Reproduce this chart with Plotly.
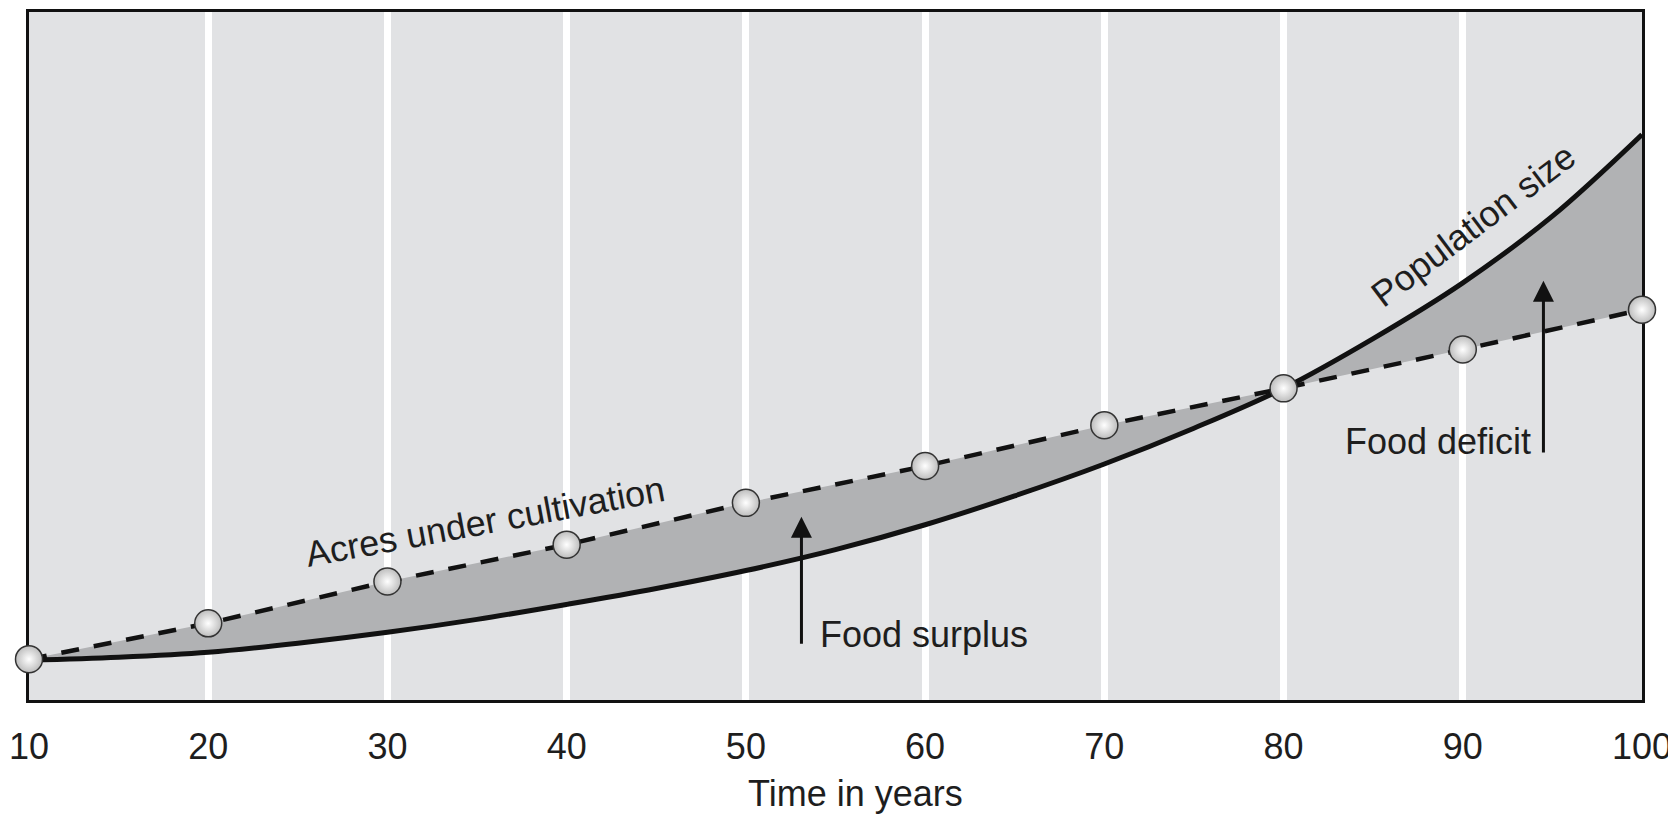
import plotly.graph_objects as go

# ---- data ----
years_acres = [10, 20, 30, 40, 50, 60, 70, 80, 90, 100]
acres = [41, 77, 119, 156, 198, 235, 276, 313, 352, 392]

years_pop = [10, 15, 20, 25, 30, 35, 40, 45, 50, 55, 60, 65, 70, 75, 80, 85, 90, 95, 100]
population = [40, 43, 48, 57, 68, 81, 96, 112, 130, 151, 176, 205, 237, 273, 313, 363, 419, 486, 568]

tick_vals = [10, 20, 30, 40, 50, 60, 70, 80, 90, 100]
tick_text = ["10", "20", "30", "40", "50", "60", "70", "80", "90", "100"]

FONT = "Liberation Sans, Arial, Helvetica, sans-serif"
TXT = "#1e1e1e"
BG = "#e1e2e4"
FILL = "#b1b2b4"
FS = 36

fig = go.Figure()

# acres line (dashed) - base for fill
fig.add_trace(go.Scatter(
    x=years_acres, y=acres, mode="lines",
    line=dict(color="#111111", width=4.5, dash="18px,15px"),
    hoverinfo="skip", showlegend=False,
))
# population curve, filled to acres line
fig.add_trace(go.Scatter(
    x=years_pop, y=population, mode="lines",
    line=dict(color="#111111", width=5, shape="spline", smoothing=1.0),
    fill="tonexty", fillcolor=FILL,
    hoverinfo="skip", showlegend=False,
))
# sphere markers on acres
fig.add_trace(go.Scatter(
    x=years_acres, y=acres, mode="markers",
    marker=dict(size=27, color="#bdbdbd",
                gradient=dict(type="radial", color="#ffffff"),
                line=dict(color="#333333", width=1.5)),
    cliponaxis=False, hoverinfo="skip", showlegend=False,
))

annos = [
    dict(x=35.45, y=179, text="Acres under cultivation", textangle=-10.5,
         showarrow=False, xanchor="center", yanchor="middle"),
    dict(x=90.55, y=477, text="Population size", textangle=-37,
         showarrow=False, xanchor="center", yanchor="middle"),
    dict(x=54.0, y=66, text="Food surplus", showarrow=False,
         xanchor="left", yanchor="middle"),
    dict(x=93.9, y=260, text="Food deficit", showarrow=False,
         xanchor="right", yanchor="middle"),
    # arrows
    dict(x=53.1, y=184, ax=53.1, ay=55, axref="x", ayref="y", text="",
         showarrow=True, arrowhead=2, arrowsize=1.4, arrowwidth=3, arrowcolor="#111111"),
    dict(x=94.5, y=421, ax=94.5, ay=247, axref="x", ayref="y", text="",
         showarrow=True, arrowhead=2, arrowsize=1.4, arrowwidth=3, arrowcolor="#111111"),
    dict(x=56.1, y=-0.1693, xref="x", yref="paper", text="Time in years",
         showarrow=False, xanchor="center", yanchor="bottom"),
]
for a in annos:
    a.setdefault("font", dict(family=FONT, size=FS, color=TXT))
    fig.add_annotation(**a)

# page body has an 8px default margin: figure is sized/placed to compensate
fig.update_layout(
    width=1668, height=810,
    margin=dict(l=19, r=34, t=1, b=118),
    paper_bgcolor="white", plot_bgcolor=BG,
    font=dict(family=FONT, size=FS, color=TXT),
    showlegend=False,
)
fig.update_xaxes(
    range=[10, 100], tickvals=tick_vals, ticktext=tick_text,
    showgrid=True, gridcolor="white", gridwidth=7,
    ticks="outside", ticklen=13, tickcolor="rgba(0,0,0,0)",
    ticklabeloverflow="allow",
    showline=True, linecolor="#111111", linewidth=3, mirror=True,
    zeroline=False, tickfont=dict(family=FONT, size=FS, color=TXT),
    layer="below traces",
)
fig.update_yaxes(
    range=[0, 691], showgrid=False, showticklabels=False, ticks="",
    showline=True, linecolor="#111111", linewidth=3, mirror=True,
    zeroline=False, layer="below traces",
)

fig.write_html("out.html")
